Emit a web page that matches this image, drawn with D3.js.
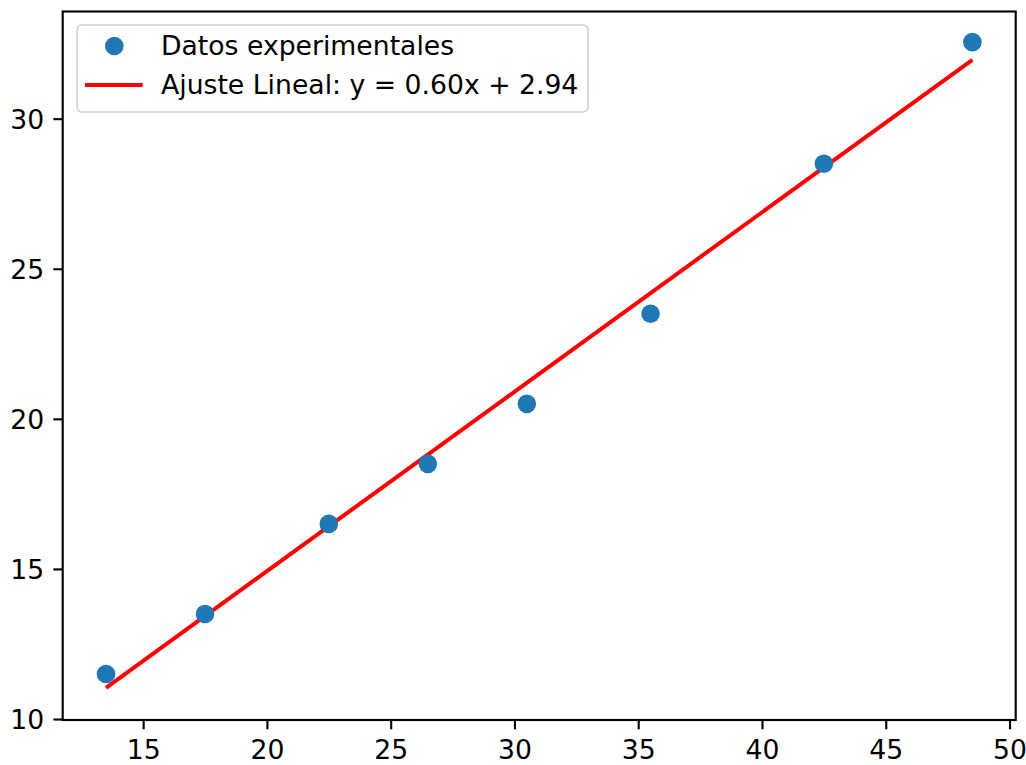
<!DOCTYPE html>
<html>
<head>
<meta charset="utf-8">
<script src="https://cdn.jsdelivr.net/npm/d3@7"></script>
<style>
  html, body { margin: 0; padding: 0; background: #ffffff; }
  svg { display: block; font-family: "DejaVu Sans", sans-serif; }
</style>
</head>
<body>
<svg id="chart" width="1026" height="765"></svg>
<script>
// ---- Data ----
const xValues = [13.5, 17.5, 22.5, 26.5, 30.5, 35.5, 42.5, 48.5];
const yValues = [11.5, 13.5, 16.5, 18.5, 20.5, 23.5, 28.5, 32.55];
const fitX = [13.5, 48.5];
const fitY = [11.04, 31.96];
const xTicks = [15, 20, 25, 30, 35, 40, 45, 50];
const yTicks = [10, 15, 20, 25, 30];
const legendLabels = ["Datos experimentales", "Ajuste Lineal: y = 0.60x + 2.94"];

// ---- Layout ----
const W = 1026, H = 765;
const L = 62.7, R = 1015.7, T = 11.5, B = 720;
const fontSize = 26.67;
const tickLen = 9.3, tickW = 2.13;

const svg = d3.select("#chart");
svg.append("rect").attr("width", W).attr("height", H).attr("fill", "#fff");

const x = d3.scaleLinear().domain([11.75, 50.25]).range([L, R]);
const y = d3.scaleLinear().domain([9.967, 33.57]).range([B, T]);

// Axes
const xAxis = svg.append("g").attr("transform", `translate(0,${B})`)
  .call(d3.axisBottom(x).tickValues(xTicks).tickSize(tickLen).tickPadding(10.5).tickFormat(d3.format("d")));
const yAxis = svg.append("g").attr("transform", `translate(${L},0)`)
  .call(d3.axisLeft(y).tickValues(yTicks).tickSize(tickLen).tickPadding(9.3).tickFormat(d3.format("d")));
[xAxis, yAxis].forEach(g => {
  g.select(".domain").remove();
  g.selectAll(".tick line").attr("stroke", "#000").attr("stroke-width", tickW);
  g.selectAll(".tick text").attr("fill", "#000")
    .style("font-family", '"DejaVu Sans", sans-serif').style("font-size", fontSize + "px");
});
yAxis.selectAll(".tick text").attr("dy", "0.36em");

// Fit line
const fitData = fitX.map((v, i) => [v, fitY[i]]);
svg.append("path")
  .datum(fitData)
  .attr("d", d3.line().x(d => x(d[0])).y(d => y(d[1])))
  .attr("fill", "none").attr("stroke", "#ff0000").attr("stroke-width", 4);

// Points
svg.append("g").selectAll("circle")
  .data(xValues.map((v, i) => [v, yValues[i]]))
  .join("circle")
  .attr("cx", d => x(d[0])).attr("cy", d => y(d[1]))
  .attr("r", 9.3).attr("fill", "#1f77b4");

// Frame
svg.append("rect")
  .attr("x", L).attr("y", T).attr("width", R - L).attr("height", B - T)
  .attr("fill", "none").attr("stroke", "#000").attr("stroke-width", tickW);

// Legend
const lg = svg.append("g");
lg.append("rect")
  .attr("x", 77).attr("y", 25).attr("width", 511).attr("height", 87)
  .attr("rx", 5).attr("ry", 5)
  .attr("fill", "rgba(255,255,255,0.8)").attr("stroke", "#d0d0d0").attr("stroke-width", 1.6);
lg.append("circle").attr("cx", 114.3).attr("cy", 46).attr("r", 9.3).attr("fill", "#1f77b4");
lg.append("line").attr("x1", 85).attr("x2", 142.7).attr("y1", 85).attr("y2", 85)
  .attr("stroke", "#ff0000").attr("stroke-width", 4);
lg.selectAll("text.lbl")
  .data(legendLabels)
  .join("text")
  .attr("class", "lbl")
  .attr("x", 161)
  .attr("y", (d, i) => 55 + i * 39)
  .attr("fill", "#000")
  .style("font-size", fontSize + "px")
  .text(d => d);
</script>
</body>
</html>
